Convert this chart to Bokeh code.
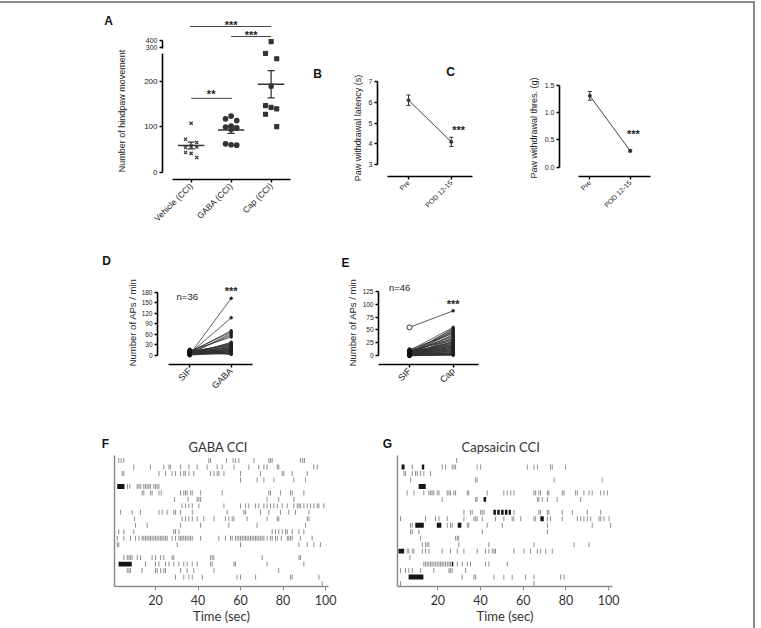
import math
import numpy as np
from bokeh.plotting import figure
from bokeh.layouts import row, column
from bokeh.models import Range1d, FixedTicker, Label, ColumnDataSource, NumeralTickFormatter
from bokeh.embed import file_html
from bokeh.resources import INLINE
from bokeh.core.properties import value

GP_FONT = "Liberation Sans"
RAS_FONT = "Lato"
INK = "#333333"

# ---------------- data ----------------
groups_A = ["Vehicle (CCI)", "GABA (CCI)", "Cap (CCI)"]
vehicle_A = [108, 73, 66, 58, 55, 56, 42, 44, 33]
gaba_A = [124, 118, 114, 102, 100, 98, 95, 63, 60, 61]
cap_A = [385, 262, 250, 190, 147, 140, 143, 128, 101]

times_BC = ["Pre", "POD 12-15"]
latency_mean = [6.1, 4.1]
latency_sem = [0.25, 0.22]
thres_mean = [1.31, 0.30]
thres_sem = [0.08, 0.02]

sif_D = [2, 5, 8, 10, 3, 6, 12, 1, 4, 7, 9, 11, 0, 3, 5, 8, 14, 2, 6, 10,
         4, 1, 7, 13, 3, 9, 5, 0, 2, 11, 6, 8, 4, 15, 1, 3]
gaba_D = [163, 107, 70, 66, 62, 57, 52, 37, 35, 33, 31, 29, 27, 25, 23, 22, 20, 18, 17, 15,
          14, 13, 12, 11, 10, 9, 8, 7, 6, 5, 5, 4, 3, 2, 30, 19]

sif_E = [55, 10, 3, 6, 1, 8, 4, 12, 2, 5, 7, 0, 9, 3, 11, 1, 6, 4, 2, 8,
         5, 0, 10, 3, 7, 1, 4, 6, 2, 9, 0, 5, 3, 8, 1, 2, 4, 0, 6, 3,
         1, 2, 0, 1, 7, 5]
cap_E = [87, 55, 53, 51, 49, 47, 45, 43, 41, 39, 37, 35, 33, 31, 30, 28, 27, 25, 24, 22,
         21, 20, 18, 17, 16, 15, 14, 13, 12, 11, 10, 9, 8, 7, 6, 5, 5, 4, 4, 3,
         3, 2, 2, 1, 26, 19]

F_spikes = [
    [2.7, 3.8, 5.1, 45.1, 45.9, 53.4, 56.5, 57.6, 59.2, 66.3, 73.3, 74.1, 74.9, 88.2, 89.3, 90.1],
    [9.8, 17.6, 23.9, 26.3, 27.1, 31.8, 35.7, 39.6, 44.3, 49.0, 51.4, 56.9, 63.9, 68.6, 71.0, 72.5, 77.3, 78.0, 94.5, 96.1],
    [4.3, 5.1, 21.6, 24.7, 27.8, 29.4, 31.8, 33.3, 34.1, 35.7, 38.0, 45.9, 47.5, 49.0, 49.8, 52.2, 60.0, 69.4, 79.6, 80.4, 84.3, 91.4],
    [60.0, 67.8, 71.0, 75.7, 85.1, 90.6],
    [6.8, 7.9, 11.4, 12.2, 13.0, 14.5, 15.3, 16.1, 16.9, 17.6, 19.2, 20.0, 20.8, 21.6],
    [13.7, 14.5, 17.6, 18.4, 21.6, 22.7, 31.8, 33.3, 34.1, 34.9, 36.5, 37.3, 41.2, 51.4, 73.3, 74.1, 78.8, 83.5, 84.3, 89.8],
    [28.9, 35.3, 39.6, 40.4, 41.2, 72.5, 78.0, 85.1],
    [32.5, 34.1, 35.7, 37.3, 40.4, 52.2, 60.0, 62.4, 63.9, 67.1, 68.6, 71.0, 72.5, 74.1, 75.7, 77.3, 79.6, 82.0, 85.1, 86.7, 87.5, 88.2, 89.8, 91.4, 92.9, 94.5, 96.1, 96.9, 99.2],
    [3.5, 9.0, 12.9, 21.6, 23.1, 25.5, 28.6, 29.4, 31.8, 37.3, 53.7, 61.6, 62.4, 69.4, 73.3, 78.8, 82.7, 85.9, 92.2],
    [10.1, 32.5, 34.1, 35.7, 37.3, 39.6, 42.7, 47.5, 52.9, 54.5, 56.1, 56.9, 63.1, 72.5, 77.3, 78.0, 91.4, 92.2],
    [10.6, 16.1, 31.8, 41.2, 54.5, 67.8, 90.6],
    [2.7, 5.1, 9.8, 28.6, 29.4, 31.0, 74.9, 76.5, 78.0, 79.6, 81.2, 82.0, 84.3, 87.5, 89.8],
    [2.0, 5.1, 8.2, 10.6, 12.2, 13.7, 14.5, 15.3, 16.1, 16.9, 17.6, 18.4, 19.2, 20.0, 20.8, 21.6, 22.4, 23.1, 23.9, 24.7,
     25.5, 27.8, 29.4, 31.0, 31.8, 32.5, 33.3, 34.1, 34.9, 35.7, 36.5, 37.3, 41.2, 49.8, 52.9, 55.3, 56.1, 57.6, 58.4, 59.2,
     60.0, 60.8, 61.6, 62.4, 63.1, 63.9, 64.7, 65.5, 66.3, 67.1, 67.8, 68.6, 69.4, 70.2, 71.0, 72.5, 74.1, 74.9, 76.5, 77.3,
     79.2, 82.0, 82.7, 83.5, 84.3, 88.2, 93.7],
    [2.0, 2.7, 30.2, 60.0, 87.5, 91.4, 94.5, 97.6],
    [],
    [5.1, 6.7, 7.5, 8.2, 9.0, 11.4, 12.9, 18.4, 20.0, 22.4, 23.9, 27.8, 28.6, 45.9, 46.7, 47.5, 70.2, 87.5, 88.2],
    [15.3, 20.0, 21.6, 24.7, 26.3, 28.6, 31.0, 33.3, 34.9, 37.3, 39.6, 45.9, 46.7, 56.9, 57.6, 72.5, 89.8],
    [6.7, 7.5, 8.2, 13.7, 20.0, 20.8, 22.4, 23.9, 24.7, 31.8, 34.9, 38.0, 47.5, 78.0],
    [29.4, 33.3, 35.7, 37.3, 42.0, 58.4, 60.0, 67.1, 83.5, 84.3, 96.9],
    [98.4],
]
F_burst_row = [4, 16]
F_burst_start = [2.0, 2.6]
F_burst_end = [5.4, 8.8]

G_spikes = [
    [28.8],
    [8.0, 22.0, 23.6, 26.7, 27.5, 28.3, 38.4, 40.0, 61.9, 65.0, 66.6, 72.8, 73.6, 79.8],
    [4.1, 4.8, 8.0, 9.5, 10.3, 11.9, 13.4, 16.6],
    [7.2, 37.7, 38.4, 74.4, 97.0],
    [],
    [5.6, 8.8, 13.4, 15.8, 16.6, 17.3, 18.1, 19.7, 20.5, 24.4, 25.2, 25.9, 27.5, 28.3, 33.8, 34.5, 43.1, 50.9, 52.5, 54.1,
     55.6, 65.0, 65.8, 67.3, 68.1, 71.3, 72.0, 78.3, 79.1, 84.5, 85.3, 88.4, 90.8, 92.3, 96.3, 97.8, 99.4],
    [22.0, 37.7, 38.4, 66.6, 67.3, 68.9, 71.3, 75.9, 86.9],
    [],
    [32.2, 35.3, 36.1, 40.0, 40.8, 41.6, 55.6, 67.3, 68.1, 71.3, 72.0, 78.3, 83.0, 90.0, 96.3],
    [2.5, 14.2, 18.9, 20.5, 24.4, 32.2, 36.9, 37.7, 38.4, 40.8, 47.0, 50.9, 54.8, 55.6, 58.8, 65.0, 65.8, 71.3, 72.8, 78.3,
     85.3, 86.9, 88.4, 90.0, 91.6, 95.5, 96.3, 97.8, 100.2],
    [7.2, 8.0, 24.4, 25.9, 26.7, 33.8, 34.5, 43.1, 50.2, 71.3, 92.3, 100.9],
    [7.2, 8.0, 11.1, 40.8, 71.3],
    [11.9, 28.3, 29.1, 29.8],
    [12.7, 14.2, 15.0, 15.8, 29.8, 43.9, 65.0, 83.8, 90.8],
    [5.6, 6.4, 8.0, 8.8, 12.7, 14.2, 15.8, 22.0, 25.9, 29.1, 32.2, 38.4, 42.3, 43.9, 45.5, 46.3, 47.0, 55.6, 60.3, 63.4,
     66.6, 68.1, 70.5, 73.6],
    [6.9],
    [13.4, 14.2, 15.0, 15.8, 16.6, 17.3, 18.1, 18.9, 19.7, 20.5, 21.3, 22.0, 22.8, 23.6, 24.4, 25.2, 25.9, 29.1, 31.4, 33.8,
     35.3, 42.3, 43.9, 52.5],
    [2.5, 4.8, 6.4, 8.0, 11.9, 18.1, 25.2, 25.9, 26.7, 33.0],
    [31.4, 36.9, 37.7, 46.3, 50.9, 54.8, 61.1, 65.0, 77.5, 79.1],
    [2.5, 65.0],
]
G_burst_row = [1, 1, 4, 6, 8, 8, 8, 8, 8, 9, 10, 10, 10, 14, 16, 18]
G_burst_start = [3.0, 12.5, 11.0, 41.4, 46.0, 47.8, 49.6, 51.4, 53.2, 68.0, 9.4, 19.5, 29.3, 1.5, 26.5, 6.3]
G_burst_end = [4.4, 13.6, 14.3, 42.6, 47.2, 49.0, 50.8, 52.6, 54.2, 69.6, 13.4, 21.6, 31.0, 4.2, 27.2, 13.2]
time_ticks = [20, 40, 60, 80, 100]


# ---------------- helpers ----------------
def make_fig(w, h, xr, yr, ml, mr, mt, mb, xloc="below", yloc="left"):
    p = figure(width=w, height=h, x_range=Range1d(*xr), y_range=Range1d(*yr),
               output_backend="svg", toolbar_location=None,
               x_axis_location=xloc, y_axis_location=yloc,
               min_border_left=ml, min_border_right=mr,
               min_border_top=mt, min_border_bottom=mb)
    p.outline_line_color = None
    p.grid.visible = False
    return p


def gp_axes(p, tick_size="7px", label_size="9px"):
    for ax in p.axis:
        ax.axis_line_width = 1.6
        ax.axis_line_color = "black"
        ax.major_tick_line_width = 1.4
        ax.major_tick_out = 3
        ax.major_tick_in = 0
        ax.minor_tick_line_color = None
        ax.major_label_text_font = GP_FONT
        ax.major_label_text_font_size = tick_size
        ax.major_label_text_color = "#222222"
        ax.axis_label_text_font = GP_FONT
        ax.axis_label_text_font_size = label_size
        ax.axis_label_text_font_style = "normal"
        ax.axis_label_text_color = "#222222"
        ax.major_label_standoff = 2


def panel_letter(p, txt, x, y, side):
    # label placed in a side panel; x, y are pixels from that panel's left / bottom edge
    p.add_layout(Label(x=x, y=y, x_units="screen", y_units="screen", text=txt,
                       text_font=GP_FONT, text_font_size="12px", text_font_style="bold",
                       text_align="center", text_baseline="middle", text_color="#111111"), side)


def stars(p, x, y, txt="***"):
    p.text(x=[x], y=[y], text=[txt], text_font=value(GP_FONT), text_font_size="11px",
           text_font_style="bold", text_align="center", text_baseline="top", text_color="#222222")


# ---------------- Panel A (broken axis: two stacked figures) ----------------
A_x = [1, 2, 3]
A_vals = [vehicle_A, gaba_A, cap_A]
A_markers = ["x", "circle", "square"]
A_sizes = [4.5, 4.5, 4]
pattern = [0.0, -0.14, 0.14]

A_up = make_fig(300, 47, (0.283, 3.61), (257, 728.6), 162, 5, 14, 0, xloc=None)
A_lo = make_fig(300, 190, (0.283, 3.61), (-15.4, 268.1), 162, 5, 0, 61)

for gx, vals, mk, sz in zip(A_x, A_vals, A_markers, A_sizes):
    xs = [gx + pattern[i % 3] for i in range(len(vals))]
    A_lo.scatter(xs, vals, marker=mk, size=sz, color=INK, line_width=1.2)
    hi = [(x, v) for x, v in zip(xs, vals) if v > 280]
    if hi:
        A_up.scatter([h[0] for h in hi], [h[1] for h in hi], marker=mk, size=sz, color=INK, line_width=1.2)
    m = float(np.mean(vals))
    se = float(np.std(vals, ddof=1) / np.sqrt(len(vals)))
    A_lo.segment([gx - 0.33], [m], [gx + 0.33], [m], line_color=INK, line_width=1.6)
    A_lo.segment([gx], [m - se], [gx], [m + se], line_color=INK, line_width=1.3)
    A_lo.segment([gx - 0.09, gx - 0.09], [m - se, m + se], [gx + 0.09, gx + 0.09], [m - se, m + se],
                 line_color=INK, line_width=1.3)

A_up.line([0.97, 3.0], [600, 600], line_color="#444444", line_width=1)
A_up.line([2.0, 3.0], [457, 457], line_color="#444444", line_width=1)
A_lo.line([1.0, 2.02], [163, 163], line_color="#444444", line_width=1)
stars(A_up, 2.0, 707)
stars(A_up, 2.5, 564)
stars(A_lo, 1.5, 185, "**")

A_up.yaxis.ticker = FixedTicker(ticks=[300, 400])
A_up.yaxis.bounds = (288, 400)
A_lo.yaxis.ticker = FixedTicker(ticks=[0, 100, 200])
A_lo.yaxis.bounds = (0, 262)
A_lo.xaxis.ticker = FixedTicker(ticks=A_x)
A_lo.xaxis.major_label_overrides = {x: g for x, g in zip(A_x, groups_A)}
A_lo.xaxis.bounds = (0.53, 3.49)
A_lo.xaxis.major_label_orientation = math.pi / 4
gp_axes(A_up, "7px")
gp_axes(A_lo, "8px", "9.5px")
A_lo.xaxis.major_label_text_font_size = "8.5px"
# y-axis title for the broken axis, placed in the left side panel of the lower part
A_lo.add_layout(Label(x=-10, y=68.5, x_units="screen", y_units="screen", angle=math.pi / 2,
                      text="Number of hindpaw movement", text_font=GP_FONT, text_font_size="9px",
                      text_align="center", text_baseline="middle", text_color="#222222"), "left")
panel_letter(A_up, "A", -54, -3, "above")

# ---------------- Panel B ----------------
B = make_fig(200, 237, (0.274, 2.59), (2.435, 7.094), 77, 24, 76, 62)
bx = [1, 2]
B.line(bx, latency_mean, line_color="#444444", line_width=1)
B.scatter(bx, latency_mean, size=3, color=INK)
for x, m, s in zip(bx, latency_mean, latency_sem):
    B.segment([x], [m - s], [x], [m + s], line_color=INK, line_width=1)
    B.segment([x - 0.05, x - 0.05], [m - s, m + s], [x + 0.05, x + 0.05], [m - s, m + s], line_color=INK, line_width=1)
stars(B, 2.17, 4.98)
B.yaxis.ticker = FixedTicker(ticks=[3, 4, 5, 6, 7])
B.yaxis.bounds = (3, 7)
B.yaxis.axis_label = "Paw withdrawal latency (s)"
B.yaxis.axis_label_standoff = 3
B.xaxis.ticker = FixedTicker(ticks=bx)
B.xaxis.major_label_overrides = {x: t for x, t in zip(bx, times_BC)}
B.xaxis.bounds = (0.508, 2.49)
B.xaxis.major_label_orientation = math.pi / 4
gp_axes(B, "7px", "9px")
panel_letter(B, "B", -60, 6, "above")
panel_letter(B, "C", -26, 105, "right")

# ---------------- Panel C ----------------
C = make_fig(253, 237, (0.25, 2.577), (-0.171, 1.609), 59, 100, 76, 64)
C.line(bx, thres_mean, line_color="#444444", line_width=1)
C.scatter(bx, thres_mean, size=3, color=INK)
for x, m, s in zip(bx, thres_mean, thres_sem):
    C.segment([x], [m - s], [x], [m + s], line_color=INK, line_width=1)
    C.segment([x - 0.05, x - 0.05], [m - s, m + s], [x + 0.05, x + 0.05], [m - s, m + s], line_color=INK, line_width=1)
stars(C, 2.08, 0.71)
C.yaxis.ticker = FixedTicker(ticks=[0, 0.5, 1.0, 1.5])
C.yaxis.formatter = NumeralTickFormatter(format="0.0")
C.yaxis.bounds = (0, 1.5)
C.yaxis.axis_label = "Paw withdrawal thres. (g)"
C.yaxis.axis_label_standoff = 3
C.xaxis.ticker = FixedTicker(ticks=bx)
C.xaxis.major_label_overrides = {x: t for x, t in zip(bx, times_BC)}
C.xaxis.bounds = (0.71, 2.5)
C.xaxis.major_label_orientation = math.pi / 4
gp_axes(C, "7px", "9px")

# ---------------- Panel D ----------------
D = make_fig(300, 165, (0.22, 2.587), (-26.9, 214), 157, 45, 40, 38)
D.multi_line([[1, 2]] * len(sif_D), [[a, b] for a, b in zip(sif_D, gaba_D)], line_color="#333333", line_width=0.8)
D.scatter([1] * len(sif_D), sif_D, size=3.5, color="#111111")
D.scatter([2] * len(gaba_D), gaba_D, size=2.5, color="#222222")
D.text(x=[0.68], y=[168], text=["n=36"], text_font=value(GP_FONT), text_font_size="9.5px",
       text_baseline="middle", text_color="#222222")
stars(D, 2.0, 200)
D.yaxis.ticker = FixedTicker(ticks=[0, 30, 60, 90, 120, 150, 180])
D.yaxis.bounds = (0, 180)
D.yaxis.axis_label = "Number of APs / min"
D.yaxis.axis_label_standoff = 1
D.xaxis.ticker = FixedTicker(ticks=[1, 2])
D.xaxis.major_label_overrides = {1: "SIF", 2: "GABA"}
D.xaxis.bounds = (0.486, 2.507)
D.xaxis.major_label_orientation = math.pi / 4
gp_axes(D, "6.5px", "9.5px")
D.xaxis.major_label_text_font_size = "9px"
panel_letter(D, "D", -51, 20, "above")

# ---------------- Panel E ----------------
E = make_fig(453, 165, (0.291, 2.579), (-16.8, 145.6), 78, 275, 40, 41)
E.multi_line([[1, 2]] * len(sif_E), [[a, b] for a, b in zip(sif_E, cap_E)], line_color="#333333", line_width=0.8)
E.scatter([1] * (len(sif_E) - 1), sif_E[1:], size=3.5, color="#111111")
E.scatter([1], sif_E[:1], size=5, fill_color="white", line_color="#333333", line_width=1)
E.scatter([2] * len(cap_E), cap_E, size=2.5, color="#222222")
E.text(x=[0.53], y=[132.7], text=["n=46"], text_font=value(GP_FONT), text_font_size="9.5px",
       text_baseline="middle", text_color="#222222")
stars(E, 2.0, 111.8)
E.yaxis.ticker = FixedTicker(ticks=[0, 25, 50, 75, 100, 125])
E.yaxis.bounds = (0, 125)
E.yaxis.axis_label = "Number of APs / min"
E.yaxis.axis_label_standoff = 2
E.xaxis.ticker = FixedTicker(ticks=[1, 2])
E.xaxis.major_label_overrides = {1: "SIF", 2: "Cap"}
E.xaxis.major_label_orientation = math.pi / 4
gp_axes(E, "6.5px", "9.5px")
E.xaxis.major_label_text_font_size = "9px"
panel_letter(E, "E", -33, 18, "above")


# ---------------- Panels F, G (rasters) ----------------
def raster(p, spikes, b_row, b_start, b_end, title, title_offset):
    n = len(spikes)
    xs, ys = [], []
    for i, rowt in enumerate(spikes):
        r = n - 1 - i
        for t in rowt:
            xs.append(t)
            ys.append(r)
    src = ColumnDataSource(dict(t=xs, y0=[y - 0.38 for y in ys], y1=[y + 0.38 for y in ys]))
    p.segment(x0="t", y0="y0", x1="t", y1="y1", source=src, line_color="#6a6a6a", line_width=0.9, line_alpha=0.85)
    br = [n - 1 - r for r in b_row]
    p.quad(left=b_start, right=b_end, bottom=[r - 0.38 for r in br], top=[r + 0.38 for r in br],
           fill_color="#151515", line_color=None)
    p.xaxis.ticker = FixedTicker(ticks=time_ticks)
    p.xaxis.axis_label = "Time (sec)"
    p.yaxis.ticker = FixedTicker(ticks=[])
    for ax in p.axis:
        ax.axis_line_color = "#8a8a8a"
        ax.axis_line_width = 1.5
        ax.major_tick_line_color = "#8a8a8a"
        ax.major_tick_out = 4
        ax.major_tick_in = 0
        ax.minor_tick_line_color = None
        ax.major_label_text_font = RAS_FONT
        ax.major_label_text_font_size = "12.5px"
        ax.major_label_text_color = "#333333"
        ax.axis_label_text_font = RAS_FONT
        ax.axis_label_text_font_size = "13px"
        ax.axis_label_text_font_style = "normal"
        ax.axis_label_text_color = "#333333"
        ax.major_label_standoff = 4
        ax.axis_label_standoff = 0
    p.title.text = title
    p.title.align = "left"
    p.title.offset = title_offset
    p.title.text_font = RAS_FONT
    p.title.text_font_size = "13px"
    p.title.text_font_style = "normal"
    p.title.text_color = "#333333"
    p.title.standoff = 1


F = make_fig(370, 223, (0.7, 101.4), (-0.46, 19.78), 114, 42, 50, 42)
raster(F, F_spikes, F_burst_row, F_burst_start, F_burst_end, "GABA CCI", 74)
panel_letter(F, "F", -223, 143, "right")

G = make_fig(383, 223, (1.08, 101.8), (-0.46, 19.78), 27, 141, 50, 42)
raster(G, G_spikes, G_burst_row, G_burst_start, G_burst_end, "Capsaicin CCI", 64)
panel_letter(G, "G", -225, 143, "right")

layout = column(
    row(column(A_up, A_lo), B, C),
    row(D, E),
    row(F, G),
    styles={"border-top": "2px solid #8a8a8a", "border-right": "2px solid #8a8a8a", "margin-top": "1px"},
)

open("out.html", "w").write(file_html(layout, INLINE))
